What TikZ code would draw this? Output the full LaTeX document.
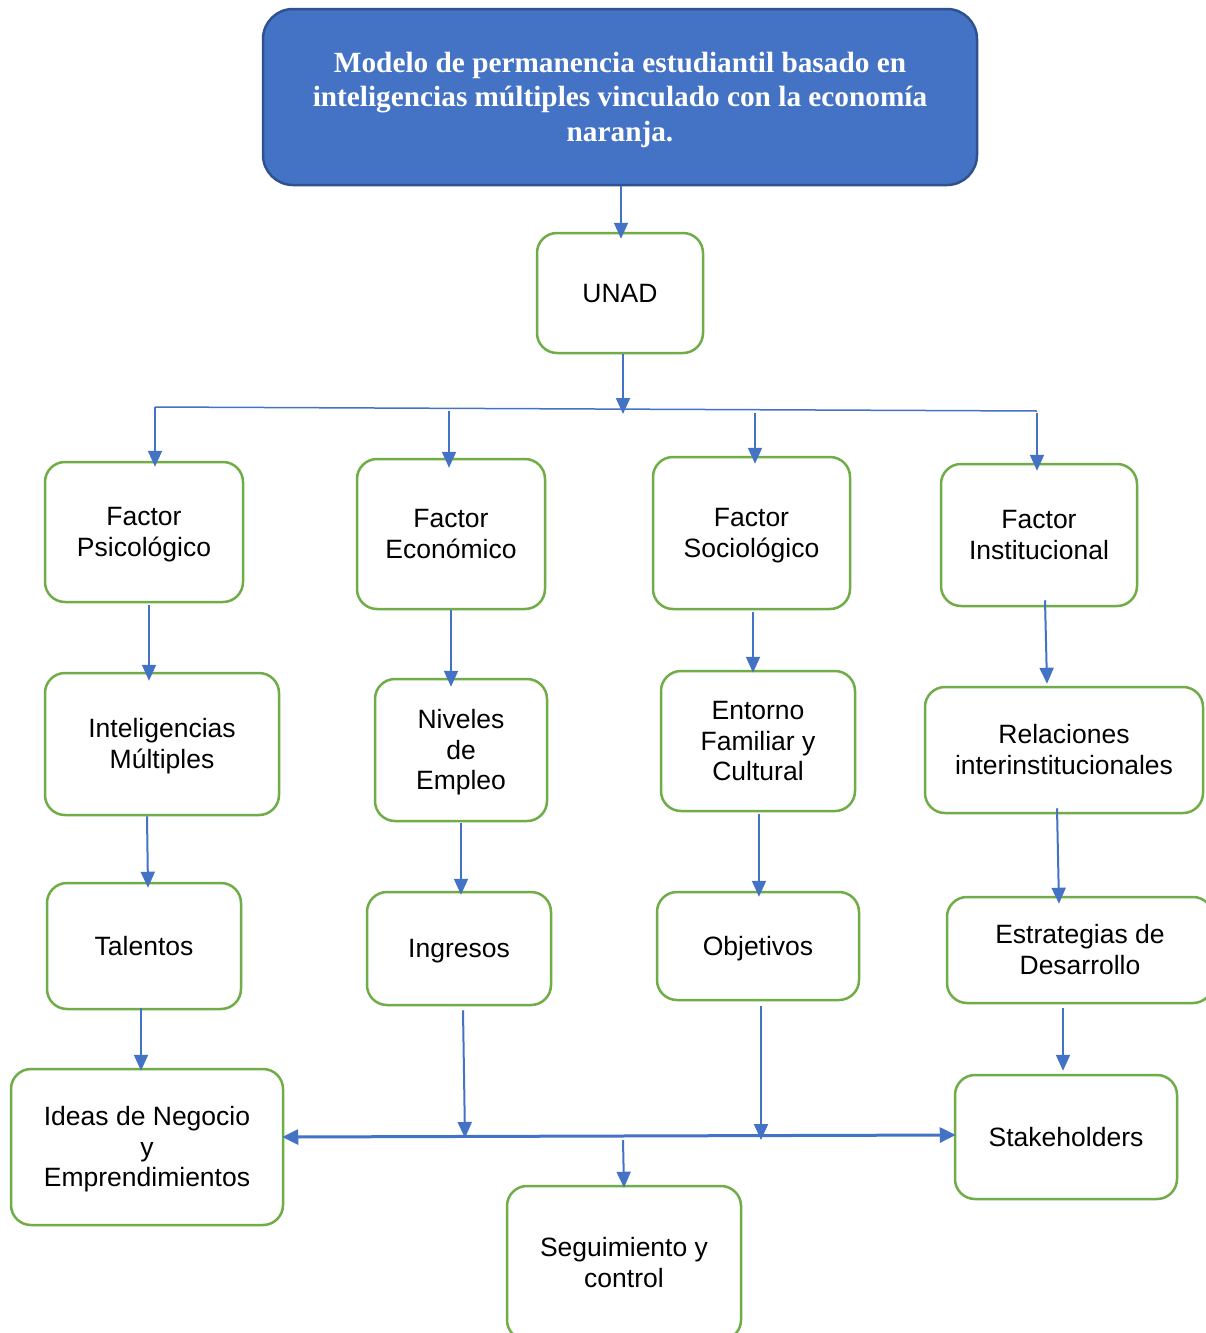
\documentclass[tikz,border=0pt]{standalone}
\usepackage{fontspec}
\setmainfont{Liberation Serif}
\newfontfamily\arialf{Liberation Sans}
\usetikzlibrary{arrows.meta,calc}
\definecolor{cblue}{HTML}{4472C4}
\definecolor{cdark}{HTML}{2F528F}
\definecolor{cgreen}{HTML}{70AD47}
\newcommand\bt[1]{\raisebox{-3pt}[\height][\depth]{\begin{tabular}{@{}c@{}}#1\end{tabular}}}
\begin{document}
\begin{tikzpicture}[x=1pt,y=-1pt,
  box/.style={draw=cgreen, line width=2.5pt, rounded corners=20pt, inner sep=0pt,
    font=\arialf\fontsize{26.5}{30.5}\selectfont},
  titlebox/.style={draw=cdark, fill=cblue, line width=2.5pt, rounded corners=30pt, inner sep=0pt,
    text=white, font=\bfseries\fontsize{29.3}{34.5}\selectfont},
  arr/.style={draw=cblue, line width=2pt, -{Triangle[length=16pt,width=14pt]}},
  thin/.style={draw=cblue, line width=1.5pt},
  darr/.style={draw=cblue, line width=3pt, {Triangle[length=16pt,width=15pt]}-{Triangle[length=16pt,width=15pt]}}
]
\useasboundingbox (0,0) rectangle (1206,1333);
\fill[white] (0,0) rectangle (1206,1333);

\node[titlebox, minimum width=714, minimum height=176] (title) at (620,97)
  {\bt{Modelo de permanencia estudiantil basado en\\inteligencias múltiples vinculado con la economía\\naranja.}};
\node[box, minimum width=166, minimum height=120] (unad) at (620,293) {\bt{UNAD}};

\node[box, minimum width=198, minimum height=140] (psico) at (144,532) {\bt{Factor\\Psicológico}};
\node[box, minimum width=188, minimum height=150] (econ) at (451,534) {\bt{Factor\\Económico}};
\node[box, minimum width=197, minimum height=152] (socio) at (751.5,533) {\bt{Factor\\Sociológico}};
\node[box, minimum width=196, minimum height=142] (inst) at (1039,535) {\bt{Factor\\Institucional}};

\node[box, minimum width=234, minimum height=142] (intel) at (162,744) {\bt{Inteligencias\\Múltiples}};
\node[box, minimum width=172, minimum height=142] (niveles) at (461,750) {\bt{Niveles\\de\\Empleo}};
\node[box, minimum width=194, minimum height=140] (entorno) at (758,741) {\bt{Entorno\\Familiar y\\Cultural}};
\node[box, minimum width=278, minimum height=126] (relac) at (1064,750) {\bt{Relaciones\\interinstitucionales}};

\node[box, minimum width=194, minimum height=126] (talentos) at (144,946) {\bt{Talentos}};
\node[box, minimum width=184, minimum height=113] (ingresos) at (459,948.5) {\bt{Ingresos}};
\node[box, minimum width=202, minimum height=108] (objetivos) at (758,946) {\bt{Objetivos}};
\node[box, minimum width=266, minimum height=106] (estrat) at (1080,950) {\bt{Estrategias de\\Desarrollo}};

\node[box, minimum width=272, minimum height=156] (ideas) at (147,1147) {\bt{Ideas de Negocio\\y\\Emprendimientos}};
\node[box, minimum width=222, minimum height=124] (stake) at (1066,1137) {\bt{Stakeholders}};
\node[box, minimum width=234, minimum height=154] (segui) at (624,1263) {\bt{Seguimiento y\\control}};

% top connectors
\draw[arr] ($(title.south)+(1,0)$) -- ($(unad.north)+(1,7)$);
\coordinate (hm) at (623,414);
\draw[arr] ($(unad.south)+(3,0)$) -- (hm);
\coordinate (h1) at (155,407);
\coordinate (h2) at (449,411);
\coordinate (h3) at (755,413);
\coordinate (h4) at (1037,411);
\coordinate (h4b) at (1037,413);
\draw[thin] (h1) -- (h4);
\draw[arr] (h1) -- ($(psico.north)+(11,6)$);
\draw[arr] (h2) -- ($(econ.north)+(-2,10)$);
\draw[arr] (h3) -- ($(socio.north)+(3.5,8)$);
\draw[arr] (h4b) -- ($(inst.north)+(-2,8)$);

% columns
\draw[arr] ($(psico.south)+(5,2)$) -- ($(intel.north)+(-13,9)$);
\draw[arr] ($(econ.south)+(0,0)$) -- ($(niveles.north)+(-10,9)$);
\draw[arr] ($(socio.south)+(1.5,2)$) -- ($(entorno.north)+(-5,3)$);
\draw[arr] ($(inst.south)+(6,-7)$) -- ($(relac.north)+(-17,-2)$);

\draw[arr] ($(intel.south)+(-15,0)$) -- ($(talentos.north)+(4,6)$);
\draw[arr] ($(niveles.south)+(0,1)$) -- ($(ingresos.north)+(2,4)$);
\draw[arr] ($(entorno.south)+(1,2)$) -- ($(objetivos.north)+(1,6)$);
\draw[arr] ($(relac.south)+(-7,-6)$) -- ($(estrat.north)+(-21,8)$);

\draw[arr] ($(talentos.south)+(-3,-2)$) -- ($(ideas.north)+(-6,3)$);
\coordinate (b1) at (465,1138);
\coordinate (b2) at (761,1140);
\coordinate (b3) at (623,1140);
\draw[arr] ($(ingresos.south)+(4,4)$) -- (b1);
\draw[arr] ($(objetivos.south)+(3,5)$) -- (b2);
\draw[arr] ($(estrat.south)+(-17,4)$) -- ($(stake.north)+(-3,-3)$);

% bottom bus
\draw[darr] ($(ideas.east)+(-2,-10)$) -- ($(stake.west)+(2,-2)$);
\draw[arr] (b3) -- ($(segui.north)+(0,3)$);
\end{tikzpicture}
\end{document}
